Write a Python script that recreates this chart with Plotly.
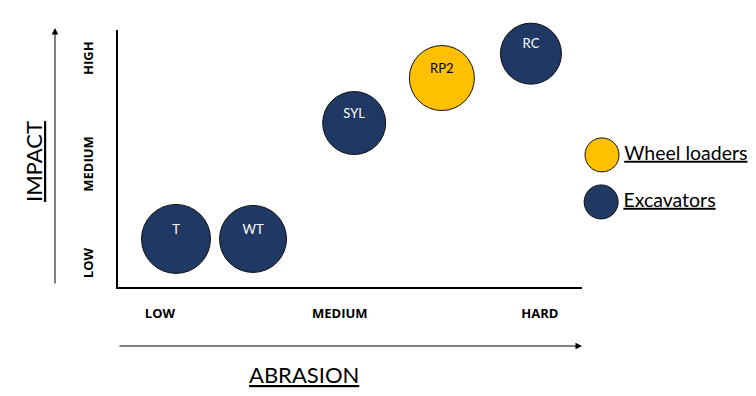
import plotly.graph_objects as go

# ---- data ----
machines = ["T", "WT", "SYL", "RP2", "RC"]
groups = ["Excavators", "Excavators", "Excavators", "Wheel loaders", "Excavators"]
abrasion = [1.25, 2.91, 5.09, 6.98, 8.90]
impact = [1.87, 1.87, 6.38, 8.13, 9.08]
bubble_size = [69, 67, 63, 65, 61]

x_tick_vals = [0.905, 4.78, 9.09]
x_tick_text = ["LOW", "MEDIUM", "HARD"]
y_tick_vals = [0.856, 4.71, 8.83]
y_tick_text = ["LOW", "MEDIUM", "HIGH"]

legend_names = ["Wheel loaders", "Excavators"]
legend_x = [1.15, 1.1]
legend_y = [5.14, 3.31]

colors = {"Excavators": "#1F3864", "Wheel loaders": "#FFC000"}
text_colors = {"Excavators": "white", "Wheel loaders": "black"}

FONT = "Lato"

fig = go.Figure()

for g in ["Excavators", "Wheel loaders"]:
    idx = [i for i, gg in enumerate(groups) if gg == g]
    fig.add_trace(go.Scatter(
        x=[abrasion[i] for i in idx],
        y=[impact[i] for i in idx],
        mode="markers+text",
        text=[machines[i] + "<br> " for i in idx],
        textposition="middle center",
        textfont=dict(family=FONT, size=13, color=text_colors[g]),
        marker=dict(size=[bubble_size[i] for i in idx], color=colors[g],
                    line=dict(color="#111111", width=1), opacity=1),
        showlegend=False, hoverinfo="skip", cliponaxis=False,
        xaxis="x", yaxis="y",
    ))

# manual legend with large circles
for i, name in enumerate(legend_names):
    fig.add_trace(go.Scatter(
        x=[legend_x[i]], y=[legend_y[i]],
        mode="markers+text",
        text=["<u>" + name + "</u>"],
        textposition="middle right",
        textfont=dict(family=FONT, size=19.5, color="black"),
        marker=dict(size=34, color=colors[name], line=dict(color="#111111", width=1)),
        showlegend=False, hoverinfo="skip", cliponaxis=False,
        xaxis="x2", yaxis="y2",
    ))

# page body has an 8px margin; compensate so the picture lands where intended
OFF = 8
W, H = 756 - OFF, 396 - OFF
ML, MR, MT = 118 - OFF, 0, 30 - OFF
MB = H - (287 - OFF)
pw = W - ML - MR
ph = H - MT - MB
d_end = 464 / pw

fig.update_layout(
    width=W, height=H,
    margin=dict(l=ML, r=MR, t=MT, b=MB, pad=0),
    paper_bgcolor="white", plot_bgcolor="white",
    xaxis=dict(domain=[0, d_end], range=[0, 10], showgrid=False, zeroline=False,
               showline=True, linecolor="black", linewidth=2,
               tickvals=x_tick_vals, ticktext=x_tick_text,
               ticks="outside", ticklen=13, tickcolor="rgba(0,0,0,0)",
               tickfont=dict(family="Open Sans", size=13, color="black", weight="bold")),
    yaxis=dict(domain=[0, 1], range=[0, 10], showgrid=False, zeroline=False,
               showline=True, linecolor="black", linewidth=2,
               tickvals=y_tick_vals, ticktext=y_tick_text, tickangle=-90,
               ticks="outside", ticklen=18, tickcolor="rgba(0,0,0,0)",
               tickfont=dict(family="Open Sans", size=13, color="black", weight="bold")),
    xaxis2=dict(domain=[d_end, 1], range=[0, 10], visible=False, anchor="y2"),
    yaxis2=dict(domain=[0, 1], range=[0, 10], visible=False, anchor="x2"),
    annotations=[
        dict(xref="paper", yref="paper", x=(55 - 118) / pw, y=(287 - 28) / ph,
             ax=0, ay=257, text="", showarrow=True, arrowhead=2, arrowsize=1.3,
             arrowwidth=1, arrowcolor="black"),
        dict(xref="paper", yref="paper", x=d_end, y=(287 - 346) / ph,
             ax=-464, ay=0, text="", showarrow=True, arrowhead=2, arrowsize=1.3,
             arrowwidth=1, arrowcolor="black"),
        dict(xref="paper", yref="paper", x=(33 - 118) / pw, y=(287 - 162) / ph,
             xanchor="center", yanchor="middle",
             text="<u>IMPACT</u>", textangle=-90, showarrow=False,
             font=dict(family=FONT, size=22, color="black")),
        dict(xref="paper", yref="paper", x=(304 - 118) / pw, y=(287 - 374) / ph,
             xanchor="center", yanchor="middle",
             text="<u>ABRASION</u>", showarrow=False,
             font=dict(family=FONT, size=22, color="black")),
    ],
)

fig.write_html("out.html")
